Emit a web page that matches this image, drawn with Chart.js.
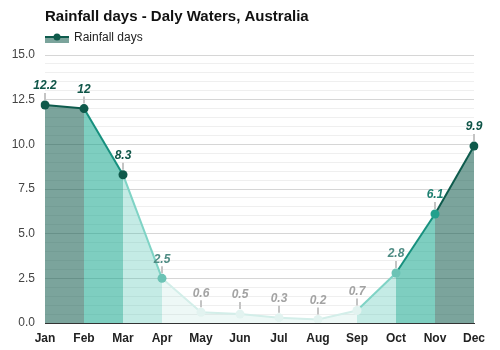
<!DOCTYPE html>
<html>
<head>
<meta charset="utf-8">
<script src="https://cdn.jsdelivr.net/npm/chart.js@4/dist/chart.umd.min.js"></script>
<style>
  html, body { margin: 0; padding: 0; background: #fff; }
  #wrap { width: 500px; height: 350px; }
</style>
</head>
<body>
<div id="wrap"><canvas id="chart" width="500" height="350"></canvas></div>
<script>
const months = ['Jan', 'Feb', 'Mar', 'Apr', 'May', 'Jun', 'Jul', 'Aug', 'Sep', 'Oct', 'Nov', 'Dec'];
const rainDays = [12.2, 12, 8.3, 2.5, 0.6, 0.5, 0.3, 0.2, 0.7, 2.8, 6.1, 9.9];
const yTicks = [0, 2.5, 5, 7.5, 10, 12.5, 15];

const lineColors = ['#d3eee9', '#7fd3c5', '#17907e', '#0e5b4d'];
const fillColors = ['rgba(110,200,185,0.12)', 'rgba(60,190,170,0.3)', 'rgba(20,165,140,0.55)', 'rgba(15,90,75,0.55)'];
const pointColors = ['#e2f3f0', '#6cc3b5', '#23a08d', '#0f5a4b'];
const labelColors = ['#a3a3a3', '#4f8c84', '#1d7f70', '#0f5548'];

const segLevel = v => v >= 9 ? 3 : v >= 5 ? 2 : v >= 2 ? 1 : 0;
const ptLevel = v => v >= 8 ? 3 : v >= 5 ? 2 : v >= 2 ? 1 : 0;

const labelsPlugin = {
  id: 'valueLabels',
  afterDatasetsDraw(chart) {
    const ctx = chart.ctx;
    const meta = chart.getDatasetMeta(0);
    ctx.save();
    meta.data.forEach((pt, i) => {
      const v = rainDays[i];
      ctx.strokeStyle = '#c4c4c4';
      ctx.lineWidth = 2;
      ctx.beginPath();
      ctx.moveTo(pt.x, pt.y - 5);
      ctx.lineTo(pt.x, pt.y - 12);
      ctx.stroke();
      ctx.font = 'italic bold 12px Arial, "Liberation Sans", sans-serif';
      ctx.fillStyle = labelColors[ptLevel(v)];
      ctx.textAlign = 'center';
      ctx.textBaseline = 'middle';
      ctx.fillText(String(v), pt.x, pt.y - 19);
    });
    ctx.restore();
  }
};

const headerPlugin = {
  id: 'header',
  afterDraw(chart) {
    const ctx = chart.ctx;
    ctx.save();
    ctx.font = 'bold 15px Arial, "Liberation Sans", sans-serif';
    ctx.fillStyle = '#111';
    ctx.textAlign = 'left';
    ctx.textBaseline = 'middle';
    ctx.fillText('Rainfall days - Daly Waters, Australia', 45, 17);

    // legend marker
    ctx.fillStyle = 'rgba(15,90,75,0.55)';
    ctx.fillRect(45, 37, 24, 6);
    ctx.strokeStyle = '#0e5b4d';
    ctx.lineWidth = 2;
    ctx.beginPath();
    ctx.moveTo(45, 37);
    ctx.lineTo(69, 37);
    ctx.stroke();
    ctx.fillStyle = '#0f5a4b';
    ctx.beginPath();
    ctx.arc(57, 37, 3.5, 0, Math.PI * 2);
    ctx.fill();
    ctx.font = '12px Arial, "Liberation Sans", sans-serif';
    ctx.fillStyle = '#222';
    ctx.fillText('Rainfall days', 74, 38);
    ctx.restore();
  }
};

new Chart(document.getElementById('chart'), {
  type: 'line',
  data: {
    labels: months,
    datasets: [{
      label: 'Rainfall days',
      data: rainDays,
      fill: 'origin',
      tension: 0,
      borderWidth: 2,
      borderColor: lineColors[3],
      backgroundColor: fillColors[3],
      pointRadius: 4.5,
      pointBorderWidth: 0,
      pointBackgroundColor: ctx => pointColors[ptLevel(rainDays[ctx.dataIndex])],
      segment: {
        borderColor: ctx => lineColors[segLevel(rainDays[ctx.p1DataIndex])],
        backgroundColor: ctx => fillColors[segLevel(rainDays[ctx.p1DataIndex])]
      }
    }]
  },
  options: {
    responsive: false,
    animation: false,
    layout: { padding: { top: 55, right: 26, left: 0, bottom: 0 } },
    plugins: {
      legend: { display: false },
      title: { display: false },
      tooltip: { enabled: false }
    },
    scales: {
      x: {
        offset: false,
        grid: { display: false, drawTicks: false },
        border: { display: true, color: '#333', width: 1 },
        ticks: {
          font: { family: 'Arial, "Liberation Sans", sans-serif', size: 12, weight: 'bold' },
          color: '#222',
          padding: 8,
          maxRotation: 0
        },
        afterFit: s => { s.height = 27; }
      },
      y: {
        min: 0,
        max: 15,
        grid: {
          color: ctx => yTicks.includes(ctx.tick.value) ? '#d6d6d6' : '#efefef',
          drawTicks: false
        },
        border: { display: false },
        ticks: {
          stepSize: 0.5,
          autoSkip: false,
          padding: 10,
          color: '#444',
          font: { family: 'Arial, "Liberation Sans", sans-serif', size: 12 },
          callback: v => yTicks.includes(v) ? v.toFixed(1) : ''
        },
        afterFit: s => { s.width = 45; }
      }
    }
  },
  plugins: [labelsPlugin, headerPlugin]
});
</script>
</body>
</html>
